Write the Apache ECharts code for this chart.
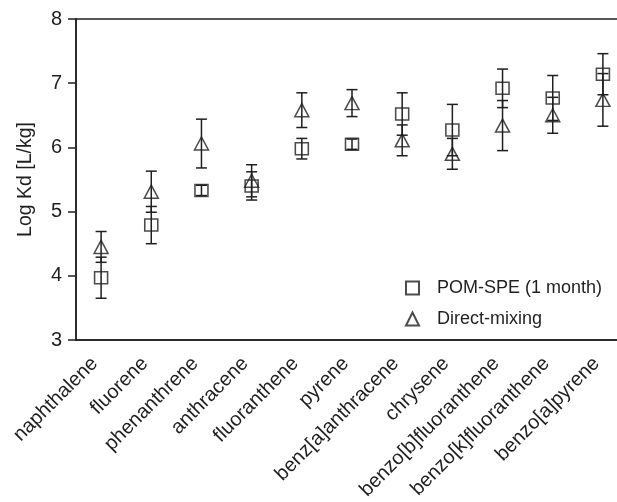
<!DOCTYPE html>
<html>
<head>
<meta charset="utf-8">
<script src="https://cdn.jsdelivr.net/npm/echarts@6/dist/echarts.min.js"></script>
<style>
  html, body { margin: 0; padding: 0; background: #fff; }
  #chart { width: 617px; height: 502px; }
</style>
</head>
<body>
<div id="chart"></div>
<script>
const categories = ['naphthalene', 'fluorene', 'phenanthrene', 'anthracene', 'fluoranthene', 'pyrene',
  'benz[a]anthracene', 'chrysene', 'benzo[b]fluoranthene', 'benzo[k]fluoranthene', 'benzo[a]pyrene']
const pomSpe = [3.97, 4.79, 5.33, 5.40, 5.98, 6.05, 6.52, 6.27, 6.92, 6.77, 7.14]
const pomSpeErr = [0.32, 0.29, 0.08, 0.22, 0.16, 0.08, 0.33, 0.40, 0.30, 0.35, 0.32]
const direct = [4.45, 5.31, 6.06, 5.48, 6.58, 6.69, 6.11, 5.90, 6.34, 6.50, 6.74]
const directErr = [0.24, 0.32, 0.38, 0.25, 0.27, 0.21, 0.24, 0.24, 0.39, 0.28, 0.41]
const yTicks = [3, 4, 5, 6, 7, 8]

const ink = '#1f1f1f'
const font = 'Liberation Sans, Arial, sans-serif'

function bars(values, errs) {
  return values.map((v, i) => [i, v - errs[i], v + errs[i]])
}

// vertical error bar with caps, placed through the chart's own axes
function renderErr(params, api) {
  const x = api.value(0)
  const lo = api.coord([x, api.value(1)])
  const hi = api.coord([x, api.value(2)])
  const hw = 5.5
  const style = { stroke: ink, lineWidth: 1.5 }
  return {
    type: 'group',
    children: [
      { type: 'line', shape: { x1: lo[0], y1: lo[1], x2: hi[0], y2: hi[1] }, style },
      { type: 'line', shape: { x1: lo[0] - hw, y1: lo[1], x2: lo[0] + hw, y2: lo[1] }, style },
      { type: 'line', shape: { x1: hi[0] - hw, y1: hi[1], x2: hi[0] + hw, y2: hi[1] }, style }
    ]
  }
}

const chart = echarts.init(document.getElementById('chart'))
chart.setOption({
  animation: false,
  textStyle: { fontFamily: font },
  grid: {
    left: 76, top: 19, width: 552, height: 321,
    outerBoundsMode: 'none',
    show: true, borderColor: ink, borderWidth: 1.5
  },
  legend: {
    orient: 'vertical',
    left: 405,
    top: 279,
    padding: 0,
    itemWidth: 13,
    itemHeight: 13,
    itemGap: 13,
    data: [
      { name: 'POM-SPE (1 month)', icon: 'path://M0,0H12V12H0Z' },
      { name: 'Direct-mixing', icon: 'path://M6,0L12,12H0Z' }
    ],
    textStyle: { fontSize: 18, color: ink, fontFamily: font, padding: [0, 0, 0, 13] }
  },
  xAxis: {
    type: 'category',
    data: categories,
    boundaryGap: true,
    axisLine: { lineStyle: { color: ink, width: 1.5 } },
    axisTick: { length: 6, lineStyle: { color: ink, width: 1.5 } },
    axisLabel: { rotate: 45, interval: 0, fontSize: 20, color: ink, margin: 14, padding: [0, 9, 0, 0] }
  },
  yAxis: {
    type: 'value',
    min: yTicks[0],
    max: yTicks[yTicks.length - 1],
    interval: 1,
    name: 'Log Kd [L/kg]',
    nameLocation: 'middle',
    nameGap: 40,
    nameTextStyle: { fontSize: 19.5, color: ink },
    axisLine: { show: true, lineStyle: { color: ink, width: 1.5 } },
    axisTick: { show: true, length: 8, lineStyle: { color: ink, width: 1.5 } },
    axisLabel: { fontSize: 20, color: ink, margin: 14 },
    splitLine: { show: false }
  },
  series: [
    {
      type: 'custom',
      name: 'errPom',
      renderItem: renderErr,
      data: bars(pomSpe, pomSpeErr),
      z: 1
    },
    {
      type: 'custom',
      name: 'errDirect',
      renderItem: renderErr,
      data: bars(direct, directErr),
      z: 1
    },
    {
      type: 'scatter',
      name: 'POM-SPE (1 month)',
      symbol: 'rect',
      symbolSize: [13, 12],
      data: pomSpe.map((v, i) => [i, v]),
      itemStyle: { color: 'rgba(0,0,0,0)', borderColor: ink, borderWidth: 1.5 },
      z: 3
    },
    {
      type: 'scatter',
      name: 'Direct-mixing',
      symbol: 'triangle',
      symbolSize: [14, 13],
      data: direct.map((v, i) => [i, v]),
      itemStyle: { color: 'rgba(0,0,0,0)', borderColor: ink, borderWidth: 1.5 },
      z: 3
    }
  ]
})
</script>
</body>
</html>
